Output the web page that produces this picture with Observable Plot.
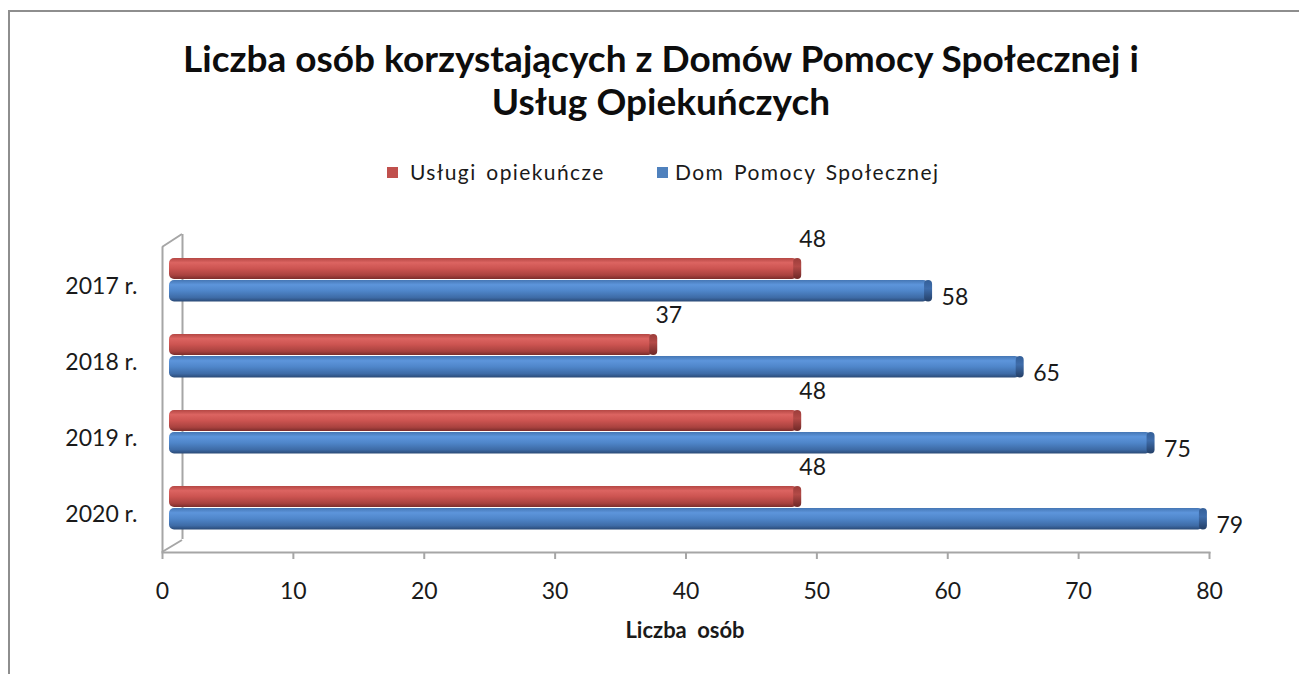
<!DOCTYPE html>
<html><head><meta charset="utf-8">
<script src="https://cdn.jsdelivr.net/npm/d3@7"></script>
<script src="https://cdn.jsdelivr.net/npm/@observablehq/plot@0.6"></script>
<style>
body{margin:0;background:#fff;font-family:Lato,"Open Sans",sans-serif;}
#wrap{position:relative;width:1299px;height:674px;overflow:hidden;background:#fff;}
#frame{position:absolute;left:8px;top:10px;width:1400px;height:1000px;border:2px solid #8e8e8e;}
#title{position:absolute;left:0;top:36px;width:1322px;text-align:center;font-weight:700;font-size:37px;line-height:43px;color:#0d0d0d;}
.sw{position:absolute;width:11px;height:11px;}
.lt{position:absolute;font-size:21px;line-height:24px;color:#1a1a1a;letter-spacing:1.4px;word-spacing:3px;white-space:nowrap;}
#xtitle{position:absolute;left:585px;width:200px;top:617px;text-align:center;font-weight:700;font-size:22px;line-height:26px;color:#1a1a1a;word-spacing:5px;}
#chart{position:absolute;left:0;top:200px;}
</style></head>
<body>
<svg width="0" height="0" style="position:absolute">
<defs>
<linearGradient id="gRed" x1="0" y1="0" x2="0" y2="1">
<stop offset="0" stop-color="#b44744"/><stop offset="0.22" stop-color="#dc6461"/><stop offset="0.5" stop-color="#cc5451"/><stop offset="0.82" stop-color="#a9423f"/><stop offset="1" stop-color="#7a2d2b"/>
</linearGradient>
<linearGradient id="gBlue" x1="0" y1="0" x2="0" y2="1">
<stop offset="0" stop-color="#4576b4"/><stop offset="0.22" stop-color="#5d95db"/><stop offset="0.5" stop-color="#4f86ca"/><stop offset="0.82" stop-color="#3e6ba6"/><stop offset="1" stop-color="#2a4a76"/>
</linearGradient>
<linearGradient id="cRed" x1="0" y1="0" x2="0" y2="1">
<stop offset="0" stop-color="#9c3d3a"/><stop offset="0.4" stop-color="#b34a47"/><stop offset="1" stop-color="#6e2826"/>
</linearGradient>
<linearGradient id="cBlue" x1="0" y1="0" x2="0" y2="1">
<stop offset="0" stop-color="#345f98"/><stop offset="0.4" stop-color="#3f6dab"/><stop offset="1" stop-color="#243f66"/>
</linearGradient>
</defs>
</svg>
<div id="wrap">
<div id="frame"></div>
<div id="title">Liczba osób korzystających z Domów Pomocy Społecznej i<br>Usług Opiekuńczych</div>
<div class="sw" style="left:387px;top:167px;background:#c0504d"></div>
<div class="lt" style="left:410px;top:160px">Usługi opiekuńcze</div>
<div class="sw" style="left:657px;top:167px;background:#4f81bd"></div>
<div class="lt" style="left:675px;top:160px">Dom Pomocy Społecznej</div>
<div id="xtitle">Liczba osób</div>
<div id="chart"></div>
</div>
<script>
const years = ["2017 r.", "2018 r.", "2019 r.", "2020 r."];
const uslugiOpiekuncze = [48, 37, 48, 48];
const domPomocy = [58, 65, 75, 79];
const xTicks = [0, 10, 20, 30, 40, 50, 60, 70, 80];

const red = years.map((y, i) => ({year: y, value: uslugiOpiekuncze[i]}));
const blue = years.map((y, i) => ({year: y, value: domPomocy[i]}));

const grid = "#a6a6a6";
const mTop = 47, mBottom = 122, H = 474;
const plot = Plot.plot({
  width: 1299,
  height: H,
  marginLeft: 162,
  marginRight: 90,
  marginTop: mTop,
  marginBottom: mBottom,
  style: {fontFamily: "Lato, 'Open Sans', sans-serif", fontSize: "23px", color: "#1a1a1a", background: "transparent"},
  x: {domain: [0, 80]},
  y: {domain: years, padding: 0},
  marks: [
    Plot.ruleX([0], {stroke: grid, strokeWidth: 2}),
    Plot.ruleX([0], {stroke: grid, strokeWidth: 2, dx: 20, dy: -13}),
    Plot.frame({anchor: "bottom", stroke: grid, strokeWidth: 2}),
    Plot.axisX(xTicks, {tickSize: 7, tickPadding: 23, fontSize: 23, stroke: grid, strokeWidth: 2, label: null}),
    Plot.axisY({tickSize: 0, tickPadding: 25, fontSize: 23, label: null}),
    Plot.barX(red, {x: "value", y: "year", fill: "url(#gRed)", insetTop: 10, insetBottom: 45, dx: 7, rx: 5}),
    Plot.barX(red, {x1: "value", x2: "value", y: "year", fill: "url(#cRed)", insetTop: 10, insetBottom: 45, insetLeft: -4, insetRight: -4, dx: 7, rx: 4}),
    Plot.barX(blue, {x: "value", y: "year", fill: "url(#gBlue)", insetTop: 32, insetBottom: 22.5, dx: 7, rx: 5}),
    Plot.barX(blue, {x1: "value", x2: "value", y: "year", fill: "url(#cBlue)", insetTop: 32, insetBottom: 22.5, insetLeft: -4, insetRight: -4, dx: 7, rx: 4}),
    Plot.text(red, {x: "value", y: "year", text: d => String(d.value), dx: 22, dy: -47, textAnchor: "middle", fontSize: 23, fill: "#1a1a1a"}),
    Plot.text(blue, {x: "value", y: "year", text: d => String(d.value), dx: 20, dy: 11, textAnchor: "start", fontSize: 23, fill: "#1a1a1a"})
  ]
});
document.getElementById("chart").appendChild(plot);

// side-wall diagonals (3D depth), positioned via the plot's x scale
const sx = plot.scale("x");
const x0 = sx.apply(0);
const yTop = mTop, yBottom = H - mBottom;
d3.select(plot).append("path")
  .attr("d", `M${x0},${yTop}L${x0 + 20},${yTop - 13}M${x0},${yBottom}L${x0 + 20},${yBottom - 12}`)
  .attr("stroke", grid).attr("stroke-width", 2).attr("fill", "none");
</script>
</body></html>
